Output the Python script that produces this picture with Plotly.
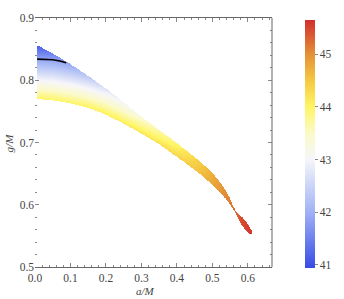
import numpy as np
import plotly.graph_objects as go

# Boundary of the shaded region
a_pts = [0.006, 0.05, 0.10, 0.15, 0.20, 0.25, 0.30, 0.35, 0.40, 0.45, 0.50, 0.53, 0.55, 0.565,
         0.575, 0.585, 0.595, 0.605, 0.613]
g_upper = [0.856, 0.843, 0.826, 0.807, 0.787, 0.765, 0.742, 0.720, 0.699, 0.677, 0.652, 0.630, 0.611, 0.591,
           0.585, 0.579, 0.573, 0.565, 0.555]
g_lower = [0.770, 0.768, 0.763, 0.756, 0.745, 0.730, 0.714, 0.697, 0.677, 0.656, 0.633, 0.615, 0.601, 0.588,
           0.576, 0.566, 0.558, 0.553, 0.553]
# Colour value along upper and lower boundaries
c_upper = [41.1, 41.5, 41.9, 42.3, 42.7, 43.0, 43.3, 43.6, 43.9, 44.3, 44.7, 44.95, 45.1, 45.25,
           45.35, 45.45, 45.5, 45.55, 45.6]
c_lower = [44.0, 44.0, 44.0, 44.05, 44.08, 44.12, 44.18, 44.25, 44.35, 44.5, 44.8, 45.0, 45.15, 45.25,
           45.35, 45.45, 45.5, 45.55, 45.6]

# Black curve
line_a = [0.006, 0.03, 0.05, 0.07, 0.088]
line_g = [0.834, 0.834, 0.833, 0.831, 0.828]

x_ticks = [0.0, 0.1, 0.2, 0.3, 0.4, 0.5, 0.6]
y_ticks = [0.5, 0.6, 0.7, 0.8, 0.9]
cb_ticks = [41, 42, 43, 44, 45]

# Build field grid for rendering
ax = np.arange(0.0, 0.62, 0.0015)
gy = np.arange(0.55, 0.86, 0.0008)
up = np.interp(ax, a_pts, g_upper, left=np.nan, right=np.nan)
lo = np.interp(ax, a_pts, g_lower, left=np.nan, right=np.nan)
cu = np.interp(ax, a_pts, c_upper)
cl = np.interp(ax, a_pts, c_lower)
G = gy[:, None]
t = (G - lo[None, :]) / (up[None, :] - lo[None, :])
Z = cl[None, :] + t * (cu[None, :] - cl[None, :])
mask = (G > up[None, :]) | (G < lo[None, :]) | np.isnan(up[None, :]) | (ax[None, :] < a_pts[0]) | (ax[None, :] > a_pts[-1])
Z = np.where(mask, np.nan, Z)
Z = np.round(Z, 3)

cmin, cmax = 40.94, 45.65
def s(v):
    return (v - cmin) / (cmax - cmin)
colorscale = [
    [0.0, "rgb(55,75,230)"],
    [s(42), "rgb(160,178,245)"],
    [s(43), "rgb(246,246,250)"],
    [s(43.5), "rgb(251,250,200)"],
    [s(44), "rgb(255,245,100)"],
    [s(44.5), "rgb(245,200,65)"],
    [s(45), "rgb(228,145,55)"],
    [1.0, "rgb(210,45,45)"],
]

font = dict(family="Liberation Serif", size=11.5, color="#444")

fig = go.Figure()
fig.add_trace(go.Heatmap(
    x=ax, y=gy, z=Z, zmin=cmin, zmax=cmax, colorscale=colorscale, zsmooth=False,
    hoverongaps=False,
    colorbar=dict(thickness=10, x=1.14, xanchor="left", y=0.494, yanchor="middle",
                  len=248, lenmode="pixels", outlinewidth=0, tickvals=cb_ticks,
                  ticks="outside", ticklen=3, tickcolor="#888", tickfont=font, xpad=0, ypad=0),
))
fig.add_trace(go.Scatter(x=line_a, y=line_g, mode="lines", line=dict(color="black", width=1.6),
                         showlegend=False))

fig.update_layout(
    width=344, height=299, margin=dict(l=35, r=62, t=18, b=32),
    plot_bgcolor="white", paper_bgcolor="white", font=font, showlegend=False,
    xaxis=dict(range=[0, 0.668], tickvals=x_ticks, tickformat=".1f", showgrid=False, zeroline=False,
               showline=True, linecolor="#666", linewidth=1, mirror="allticks",
               ticks="inside", ticklen=4, tickcolor="#888",
               minor=dict(dtick=0.02, ticks="inside", ticklen=2, tickcolor="#888", showgrid=False)),
    yaxis=dict(range=[0.5, 0.9], tickvals=y_ticks, tickformat=".1f", showgrid=False, zeroline=False,
               showline=False, mirror="allticks",
               ticks="inside", ticklen=4, tickcolor="#888",
               minor=dict(dtick=0.02, ticks="inside", ticklen=2, tickcolor="#888", showgrid=False)),
    shapes=[dict(type="line", xref="paper", yref="paper", x0=1, x1=1, y0=0, y1=1,
                 line=dict(color="#666", width=1))],
    annotations=[
        dict(text="<i>g/M</i>", xref="paper", yref="paper", x=-0.11, y=0.5, textangle=-90,
             xanchor="center", yanchor="middle",
             showarrow=False, font=dict(family="Liberation Serif", size=11, color="#444")),
        dict(text="<i>a/M</i>", xref="paper", yref="paper", x=0.465, y=-0.096, yanchor="middle",
             showarrow=False, font=dict(family="Liberation Serif", size=11, color="#444")),
    ],
)

fig.write_html("out.html", config={"displayModeBar": False},
               post_script="document.body.style.margin='0';")
